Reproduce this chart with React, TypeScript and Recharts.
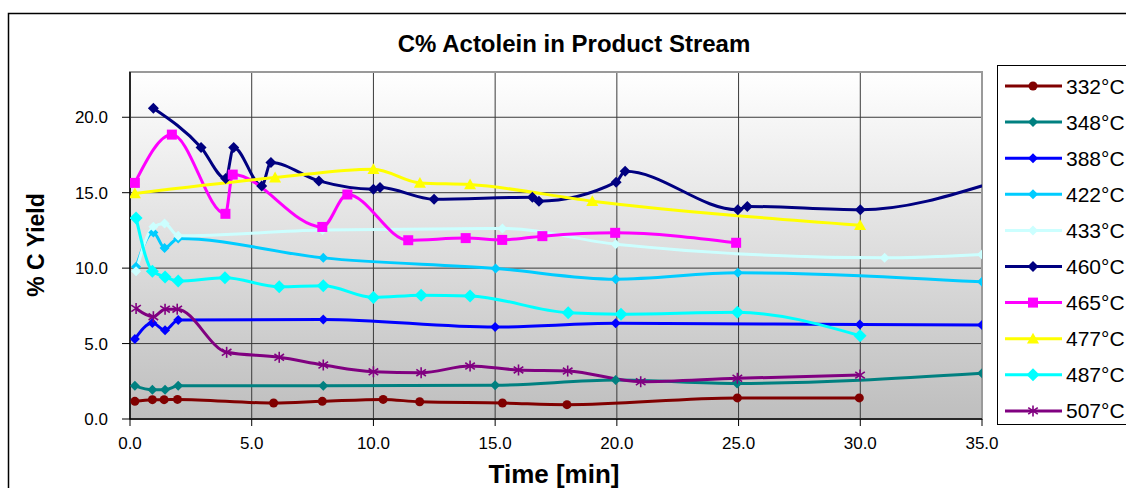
import React from 'react';
import { LineChart, Line, XAxis, YAxis, CartesianGrid, ReferenceArea } from 'recharts';

// Time axis (min) and % C yield for each reactor temperature
const t332 = [0.2, 0.92, 1.4, 1.95, 5.9, 7.9, 10.4, 11.9, 15.3, 17.95, 24.95, 29.96];
const y332 = [1.17, 1.28, 1.28, 1.3, 1.06, 1.17, 1.3, 1.14, 1.06, 0.95, 1.4, 1.4];

const t348 = [0.2, 0.92, 1.44, 1.98, 7.94, 15.0, 19.95, 24.94, 35.0];
const y348 = [2.2, 1.94, 1.94, 2.2, 2.2, 2.23, 2.58, 2.36, 3.03];

const t388 = [0.2, 0.92, 1.44, 1.98, 7.94, 15.0, 19.95, 29.98, 35.0];
const y388 = [5.3, 6.36, 5.89, 6.56, 6.6, 6.09, 6.34, 6.27, 6.23];

const t422 = [0.25, 0.96, 1.42, 1.98, 7.94, 15.02, 19.95, 24.97, 35.0];
const y422 = [10.09, 12.36, 11.34, 11.97, 10.68, 9.98, 9.27, 9.69, 9.09];

const t433 = [0.25, 0.96, 1.42, 1.98, 7.91, 15.3, 19.95, 31.0, 35.0];
const y433 = [9.8, 12.74, 12.96, 12.14, 12.52, 12.63, 11.59, 10.68, 10.91];

const t460 = [0.96, 2.92, 3.93, 4.26, 5.41, 5.79, 7.76, 10.0, 10.27, 12.49, 16.53, 16.8, 19.97, 20.34, 24.97, 25.36, 30.0, 35.5];
const y460 = [20.6, 18.0, 15.94, 18.0, 15.45, 17.0, 15.78, 15.23, 15.34, 14.57, 14.7, 14.44, 15.7, 16.42, 13.87, 14.09, 13.87, 15.7];

const t465 = [0.2, 1.72, 3.92, 4.22, 7.9, 8.93, 11.43, 13.79, 15.29, 16.94, 19.93, 24.9];
const y465 = [15.65, 18.85, 13.6, 16.2, 12.73, 14.88, 11.85, 11.99, 11.87, 12.12, 12.34, 11.68];

const t477 = [0.2, 5.96, 10.0, 11.91, 13.97, 18.99, 29.99];
const y477 = [14.95, 16.0, 16.56, 15.65, 15.54, 14.44, 12.85];

const t487 = [0.25, 0.92, 1.44, 1.98, 3.9, 6.13, 7.94, 10.0, 11.96, 13.97, 18.0, 20.17, 24.95, 29.99];
const y487 = [13.33, 9.8, 9.42, 9.14, 9.36, 8.76, 8.83, 8.06, 8.21, 8.16, 7.04, 6.95, 7.07, 5.52];

const t507 = [0.25, 0.96, 1.44, 1.94, 3.97, 6.13, 7.94, 10.0, 11.96, 13.97, 15.96, 17.98, 20.98, 24.95, 29.99];
const y507 = [7.33, 6.78, 7.28, 7.28, 4.42, 4.09, 3.58, 3.13, 3.07, 3.51, 3.25, 3.18, 2.47, 2.7, 2.91];

const xTicks = [0, 5, 10, 15, 20, 25, 30, 35];
const yTicks = [0, 5, 10, 15, 20];
const X_MAX = 35;
const Y_MAX = 23;

const TITLE = 'C% Actolein in Product Stream';
const X_LABEL = 'Time [min]';
const Y_LABEL = '% C Yield';

type Shape = 'circle' | 'diamond' | 'square' | 'triangle' | 'star';

interface SeriesDef {
  name: string;
  t: number[];
  y: number[];
  color: string;
  shape: Shape;
  size: number;
}

const series: SeriesDef[] = [
  { name: '332°C', t: t332, y: y332, color: '#800000', shape: 'circle', size: 9 },
  { name: '348°C', t: t348, y: y348, color: '#008080', shape: 'diamond', size: 10 },
  { name: '388°C', t: t388, y: y388, color: '#0000FF', shape: 'diamond', size: 10 },
  { name: '422°C', t: t422, y: y422, color: '#00CCFF', shape: 'diamond', size: 10 },
  { name: '433°C', t: t433, y: y433, color: '#CCFFFF', shape: 'diamond', size: 10 },
  { name: '460°C', t: t460, y: y460, color: '#000080', shape: 'diamond', size: 11 },
  { name: '465°C', t: t465, y: y465, color: '#FF00FF', shape: 'square', size: 10 },
  { name: '477°C', t: t477, y: y477, color: '#FFFF00', shape: 'triangle', size: 12 },
  { name: '487°C', t: t487, y: y487, color: '#00FFFF', shape: 'diamond', size: 13 },
  { name: '507°C', t: t507, y: y507, color: '#800080', shape: 'star', size: 11 },
];

const FONT = '"Liberation Sans", Arial, Helvetica, sans-serif';

function Marker({ cx, cy, shape, color, size }: { cx: number; cy: number; shape: Shape; color: string; size: number }) {
  const h = size / 2;
  switch (shape) {
    case 'circle':
      return <circle cx={cx} cy={cy} r={h} fill={color} />;
    case 'diamond':
      return (
        <polygon
          points={`${cx},${cy - h} ${cx + h},${cy} ${cx},${cy + h} ${cx - h},${cy}`}
          fill={color}
        />
      );
    case 'square':
      return <rect x={cx - h} y={cy - h} width={size} height={size} fill={color} />;
    case 'triangle':
      return (
        <polygon
          points={`${cx},${cy - h} ${cx + h},${cy + h * 0.8} ${cx - h},${cy + h * 0.8}`}
          fill={color}
        />
      );
    case 'star':
      return (
        <g stroke={color} strokeWidth={1.6}>
          <line x1={cx} y1={cy - h} x2={cx} y2={cy + h} />
          <line x1={cx - h * 0.87} y1={cy - h * 0.6} x2={cx + h * 0.87} y2={cy + h * 0.6} />
          <line x1={cx - h * 0.87} y1={cy + h * 0.6} x2={cx + h * 0.87} y2={cy - h * 0.6} />
        </g>
      );
    default:
      return null;
  }
}

function makeDot(s: SeriesDef) {
  return (props: any) => {
    const { cx, cy, index, payload } = props;
    const key = `${s.name}-${index}`;
    // points past the end of the time axis are not marked
    if (cx == null || cy == null || (payload && payload.x > X_MAX)) {
      return <g key={key} />;
    }
    return (
      <g key={key}>
        <Marker cx={cx} cy={cy} shape={s.shape} color={s.color} size={s.size} />
      </g>
    );
  };
}

function Legend() {
  const rowH = 36.1;
  return (
    <div
      style={{
        position: 'absolute',
        left: 997,
        top: 65,
        width: 200,
        height: 360,
        border: '1.5px solid #000',
        background: '#fff',
        boxSizing: 'border-box',
      }}
    >
      <svg width={200} height={360} style={{ display: 'block' }}>
        {series.map((s, i) => {
          const y = 20 + rowH * i;
          return (
            <g key={s.name}>
              <line x1={7} x2={64} y1={y} y2={y} stroke={s.color} strokeWidth={3} />
              <Marker cx={35} cy={y} shape={s.shape} color={s.color} size={s.size} />
              <text x={68} y={y} dy="0.36em" fontFamily={FONT} fontSize={21} fill="#000">
                {s.name}
              </text>
            </g>
          );
        })}
      </svg>
    </div>
  );
}

export default function App() {
  return (
    <div
      style={{
        position: 'fixed',
        left: 0,
        top: 0,
        width: 1126,
        height: 488,
        overflow: 'hidden',
        background: '#fff',
        fontFamily: FONT,
      }}
    >
      {/* outer chart frame and titles */}
      <svg width={1126} height={488} style={{ position: 'absolute', left: 0, top: 0 }}>
        <rect x={8.5} y={13.5} width={1200} height={600} fill="#fff" stroke="#000" strokeWidth={1.5} />
        <text x={574} y={43} dy="0.36em" textAnchor="middle" fontFamily={FONT} fontWeight="bold" fontSize={24} fill="#000">
          {TITLE}
        </text>
        <text x={554} y={474} dy="0.36em" textAnchor="middle" fontFamily={FONT} fontWeight="bold" fontSize={26} fill="#000">
          {X_LABEL}
        </text>
        <text
          x={36}
          y={245}
          dy="0.36em"
          textAnchor="middle"
          transform="rotate(-90 36 245)"
          fontFamily={FONT}
          fontWeight="bold"
          fontSize={23}
          fill="#000"
        >
          {Y_LABEL}
        </text>
      </svg>
      <div style={{ position: 'absolute', left: 0, top: 0 }}>
        <LineChart width={1126} height={488} margin={{ top: 72, right: 144, left: 70, bottom: 29 }}>
          <defs>
            <linearGradient id="plotBg" x1="0" y1="0" x2="0" y2="1">
              <stop offset="0%" stopColor="#FFFFFF" />
              <stop offset="100%" stopColor="#BEBEBE" />
            </linearGradient>
          </defs>
          <CartesianGrid stroke="#3a3a3a" strokeWidth={1} fill="url(#plotBg)" fillOpacity={1} />
          <ReferenceArea x1={0} x2={X_MAX} y1={0} y2={Y_MAX} fill="none" stroke="#9a9a9a" strokeWidth={2} />
          <XAxis
            type="number"
            dataKey="x"
            domain={[0, X_MAX]}
            ticks={xTicks}
            allowDataOverflow
            height={40}
            tickFormatter={(v: number) => v.toFixed(1)}
            tick={{ fontSize: 17, fill: '#000', fontFamily: FONT }}
            tickSize={7}
            tickMargin={11}
            stroke="#000"
            axisLine={{ stroke: '#000', strokeWidth: 1.5 }}
            tickLine={{ stroke: '#000', strokeWidth: 1 }}
          />
          <YAxis
            type="number"
            domain={[0, Y_MAX]}
            ticks={yTicks}
            allowDataOverflow
            width={60}
            tickFormatter={(v: number) => v.toFixed(1)}
            tick={{ fontSize: 17, fill: '#000', fontFamily: FONT }}
            tickSize={8}
            tickMargin={14}
            stroke="#000"
            axisLine={{ stroke: '#000', strokeWidth: 1.5 }}
            tickLine={{ stroke: '#000', strokeWidth: 1 }}
          />
          {series.map((s) => (
            <Line
              key={s.name}
              name={s.name}
              data={s.t.map((x, i) => ({ x, y: s.y[i] }))}
              dataKey="y"
              type="monotone"
              stroke={s.color}
              strokeWidth={3}
              dot={makeDot(s)}
              activeDot={false}
              isAnimationActive={false}
              legendType="none"
            />
          ))}
        </LineChart>
      </div>
      <Legend />
    </div>
  );
}
